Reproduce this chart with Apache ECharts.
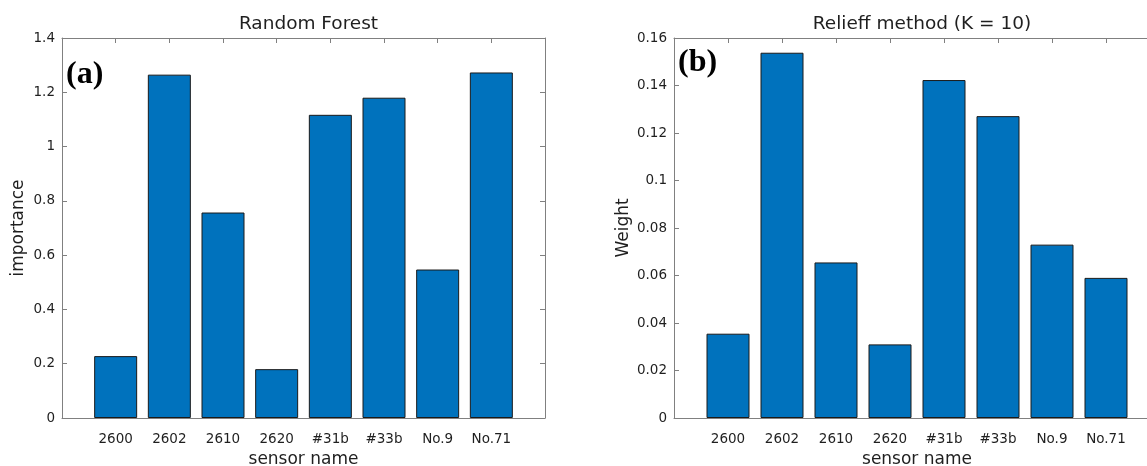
<!DOCTYPE html>
<html>
<head>
<meta charset="utf-8">
<script src="https://cdn.jsdelivr.net/npm/echarts@6/dist/echarts.min.js"></script>
<style>
html,body{margin:0;padding:0;background:#fff;}
#c{width:1147px;height:466px;}
</style>
</head>
<body>
<div id="c"></div>
<script>
const categories = ['2600', '2602', '2610', '2620', '#31b', '#33b', 'No.9', 'No.71'];
const importanceRF = [0.228, 1.265, 0.757, 0.18, 1.117, 1.18, 0.547, 1.273];
const weightRelief = [0.0355, 0.1538, 0.0655, 0.031, 0.1423, 0.1271, 0.073, 0.059];

const FONT = '"DejaVu Sans", sans-serif';
const TXT = '#1f1f1f';
const AX = '#808080';
const BAR = '#0072BD';

const chart = echarts.init(document.getElementById('c'), null, {renderer: 'canvas'});

function xAxes(gi, pos) {
  return {
    type: 'value', gridIndex: gi, position: pos, min: 0, max: categories.length + 1, interval: 1,
    axisLine: {show: true, onZero: false, lineStyle: {color: AX, width: 1}},
    axisTick: {show: true, inside: true, length: 5, lineStyle: {color: AX}},
    axisLabel: pos === 'bottom' ? {
      show: true, color: TXT, fontFamily: FONT, fontSize: 13.5, margin: 14,
      formatter: v => categories[v - 1] || ''
    } : {show: false},
    splitLine: {show: false},
    name: pos === 'bottom' ? 'sensor name' : '',
    nameLocation: 'middle', nameGap: 32,
    nameTextStyle: {color: TXT, fontFamily: FONT, fontSize: 17}
  };
}
function yAxes(gi, pos, max, interval, name) {
  return {
    type: 'value', gridIndex: gi, position: pos, min: 0, max: max, interval: interval,
    axisLine: {show: true, onZero: false, lineStyle: {color: AX, width: 1}},
    axisTick: {show: true, inside: true, length: 5, lineStyle: {color: AX}},
    axisLabel: pos === 'left' ? {show: true, color: TXT, fontFamily: FONT, fontSize: 13.5, margin: 7} : {show: false},
    splitLine: {show: false},
    name: pos === 'left' ? name : '',
    nameLocation: 'middle', nameGap: pos === 'left' ? (name === 'Weight' ? 42 : 35) : 0,
    nameTextStyle: {color: TXT, fontFamily: FONT, fontSize: 17}
  };
}

const option = {
  backgroundColor: '#fff',
  animation: false,
  title: [
    {text: 'Random Forest', left: 303.5, top: 10, textAlign: 'center',
     textStyle: {color: TXT, fontFamily: FONT, fontSize: 18.5, fontWeight: 'normal'}},
    {text: 'Relieff method (K = 10)', left: 917, top: 10, textAlign: 'center',
     textStyle: {color: TXT, fontFamily: FONT, fontSize: 18.5, fontWeight: 'normal'}}
  ],
  graphic: [
    {type: 'text', left: 66, top: 59, style: {text: '(a)', font: 'bold 32px "Liberation Serif", serif', fill: '#000'}},
    {type: 'text', left: 678, top: 47, style: {text: '(b)', font: 'bold 32px "Liberation Serif", serif', fill: '#000'}}
  ],
  grid: [
    {left: 62, top: 38, width: 483, height: 380, containLabel: false, outerBoundsMode: 'none'},
    {left: 674, top: 38, width: 486, height: 380, containLabel: false, outerBoundsMode: 'none'}
  ],
  xAxis: [xAxes(0, 'bottom'), xAxes(0, 'top'), xAxes(1, 'bottom'), xAxes(1, 'top')],
  yAxis: [
    yAxes(0, 'left', 1.4, 0.2, 'importance'), yAxes(0, 'right', 1.4, 0.2, ''),
    yAxes(1, 'left', 0.16, 0.02, 'Weight'), yAxes(1, 'right', 0.16, 0.02, '')
  ],
  series: [
    {type: 'bar', xAxisIndex: 0, yAxisIndex: 0, barWidth: 43,
     itemStyle: {color: BAR, borderColor: '#1a1a1a', borderWidth: 1},
     data: importanceRF.map((v, i) => [i + 1, v])},
    {type: 'bar', xAxisIndex: 2, yAxisIndex: 2, barWidth: 43,
     itemStyle: {color: BAR, borderColor: '#1a1a1a', borderWidth: 1},
     data: weightRelief.map((v, i) => [i + 1, v])}
  ]
};
chart.setOption(option);
</script>
</body>
</html>
